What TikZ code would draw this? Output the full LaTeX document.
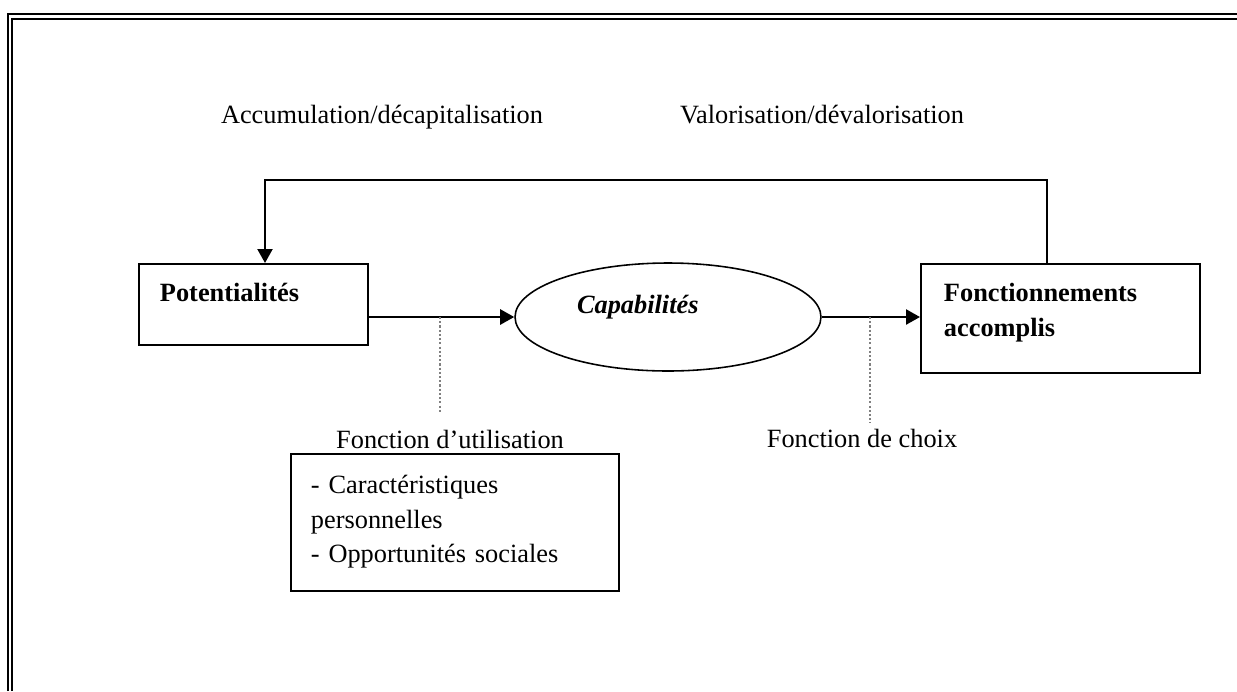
\documentclass[tikz,border=0pt]{standalone}
\usepackage{fontspec}
\setmainfont{Liberation Serif}
\usetikzlibrary{calc,arrows.meta,shapes.geometric}

\tikzset{
  boxnode/.style={draw,line width=1.1pt,anchor=north west,align=left,inner ysep=0pt},
  flow/.style={-{Triangle[length=0.28cm,width=0.3cm]},line width=1.4pt},
  tickline/.style={gray,line width=0.6pt,dash pattern=on 1.2pt off 1.2pt},
  framing/.style={line width=0.9pt},
}

\begin{document}
\begin{tikzpicture}[x=0.02cm,y=-0.02cm,font=\fontsize{15}{19.6}\selectfont]
\useasboundingbox (0,0) rectangle (1237,691);
% cadre double (ouvert a droite et en bas)
\draw[framing] (8,691) |- (1237,14);
\draw[framing] (12,691) |- (1237,19);

\node[boxnode,inner xsep=0.42cm,text width=3.74cm,text height=0.76cm,text depth=0.86cm]
  (pot) at (138,263) {\bfseries Potentialités};
\node[ellipse,draw,line width=0.9pt,minimum width=6.12cm,minimum height=2.16cm,inner sep=0pt,
  text width=3.64cm,align=left,text height=0.36cm,text depth=0.52cm]
  (cap) at (668,317) {\bfseries\itshape Capabilités};
\node[boxnode,inner xsep=0.46cm,text width=4.66cm,text height=0.76cm,text depth=1.42cm]
  (fonc) at (920,263) {\bfseries Fonctionnements\\ accomplis};

\node[anchor=base] (accu) at (382,123) {Accumulation/décapitalisation};
\node[anchor=base] (valo) at (822,123) {Valorisation/dévalorisation};

\node[anchor=base] (futil) at (450,448) {Fonction d’utilisation};
\node[boxnode,inner xsep=0.4cm,text width=5.76cm,text height=0.8cm,text depth=1.94cm]
  (carac) at (290,453) {- Caractéristiques\\ personnelles\\ - Opportunités sociales};
\node[anchor=base] (fchoix) at (862,447) {Fonction de choix};

% fleches principales
\draw[flow] (pot.east |- cap.west) -- (cap.west);
\draw[flow] (cap.east) -- (cap.east -| fonc.west);
% boucle de retour
\coordinate (retR) at (1047,180);
\coordinate (retL) at (265,180);
\draw[flow,line width=1.2pt] (fonc.north -| retR) -- (retR) -- (retL) -- (retL |- pot.north);

% traits pointilles vers les fonctions
\coordinate (tu) at (440,317);
\coordinate (tc) at (870,317);
\draw[tickline] (tu) -- ++(0,96);
\draw[tickline] (tc) -- ++(0,106);
\end{tikzpicture}
\end{document}
